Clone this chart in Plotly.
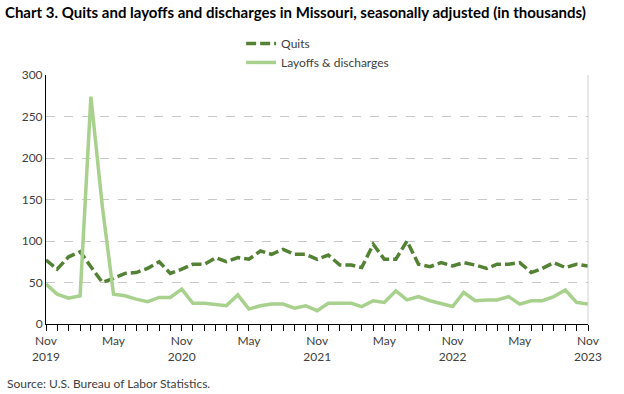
import plotly.graph_objects as go
import pandas as pd

months = pd.date_range("2019-11-01", "2023-11-01", freq="MS")

quits = [77, 66, 81, 87, 69, 50, 55, 61, 62, 67, 75, 61,
         66, 72, 72, 80, 75, 80, 78, 88, 84, 90, 84, 84,
         78, 83, 71, 71, 68, 96, 78, 78, 100, 72, 69, 74,
         70, 74, 71, 67, 72, 72, 74, 62, 67, 74, 68, 72,
         70]

layoffs = [48, 36, 31, 34, 274, 141, 36, 34, 30, 27, 32, 32,
           42, 25, 25, 23, 22, 35, 18, 22, 24, 24, 19, 22,
           16, 25, 25, 25, 21, 28, 26, 40, 29, 33, 28, 25,
           21, 38, 28, 29, 29, 33, 24, 28, 28, 33, 41, 26,
           24]

tick_dates = pd.date_range("2019-11-01", "2023-11-01", freq="6MS")
tick_text = ["Nov<br>2019", "May", "Nov<br>2020", "May", "Nov<br>2021",
             "May", "Nov<br>2022", "May", "Nov<br>2023"]

y_ticks = [0, 50, 100, 150, 200, 250, 300]

FONT = "Lato"
fig = go.Figure()
fig.add_trace(go.Scatter(x=months, y=quits, name="Quits", mode="lines",
                         line=dict(color="#548235", width=3.5, dash="10px,4px")))
fig.add_trace(go.Scatter(x=months, y=layoffs, name="Layoffs & discharges", mode="lines",
                         line=dict(color="#A9D18E", width=3.5)))

fig.update_layout(
    width=624, height=394,
    margin=dict(l=46, r=36, t=75, b=70),
    paper_bgcolor="white", plot_bgcolor="white",
    font=dict(family=FONT, size=12, color="#404040"),
    title=dict(text="<b>Chart 3. Quits and layoffs and discharges in Missouri, seasonally adjusted (in thousands)</b>",
               x=0.008, xanchor="left", y=0.967, yanchor="middle",
               font=dict(family=FONT, size=15, color="#000000")),
    legend=dict(x=0.36, xanchor="left", y=1.185, yanchor="top",
                bgcolor="rgba(0,0,0,0)", font=dict(size=12, color="#404040"),
                tracegroupgap=0),
    showlegend=True,
)
fig.update_xaxes(
    range=[months[0], months[-1]],
    tickvals=tick_dates, ticktext=tick_text,
    showgrid=False, showline=True, linecolor="#000000", linewidth=1,
    ticks="outside", ticklen=6, tickcolor="#000000",
    minor=dict(dtick="M1", ticks="outside", ticklen=6, tickcolor="#000000", showgrid=False),
    tickfont=dict(color="#404040", size=12),
)
fig.update_yaxes(
    range=[0, 300], tickvals=y_ticks,
    showgrid=True, gridcolor="#C8C8C8", griddash="dash", gridwidth=1,
    showline=True, linecolor="#000000", linewidth=1,
    zeroline=False, ticks="", tickfont=dict(color="#404040", size=12),
)
fig.add_shape(type="line", xref="paper", yref="paper", x0=1, x1=1, y0=0, y1=1,
              line=dict(color="#D0D0D0", width=1))
fig.add_annotation(text="Source: U.S. Bureau of Labor Statistics.", xref="paper", yref="paper",
                   x=-0.076, y=-0.237, xanchor="left", yanchor="middle", showarrow=False,
                   font=dict(size=12, color="#404040"))

fig.write_html("out.html", config={"displayModeBar": False},
               post_script="document.body.style.margin='0';")
